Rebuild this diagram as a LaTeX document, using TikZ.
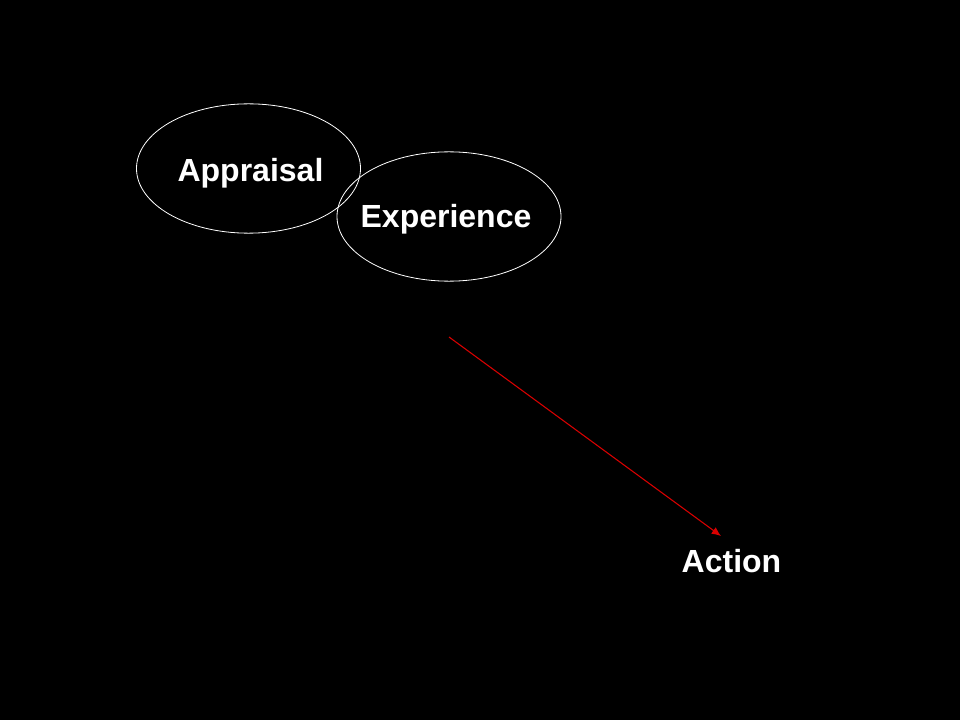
\documentclass[tikz,border=0pt]{standalone}
\usepackage{fontspec}
\setmainfont{Liberation Sans}
\usetikzlibrary{shapes.geometric,arrows.meta}

\begin{document}
\begin{tikzpicture}[x=0.75pt,y=-0.75pt,
    bubble/.style={draw=white, ellipse, line width=0.6pt, minimum width=168pt, minimum height=97pt, inner sep=0pt},
    word/.style={text=white, font=\bfseries\fontsize{24}{28}\selectfont, anchor=base, inner sep=0pt}]
    % Background
    \fill[black] (0,0) rectangle (960,720);

    % Ellipses
    \node[bubble] (appraisalbox) at (248.5,168.5) {};
    \node[bubble] (experiencebox) at (449,216.5) {};

    % Labels
    \node[word] (appraisal) at (250.5,182) {Appraisal};
    \node[word] (experience) at (446,228) {Experience};
    \node[word] (action) at (731.5,572) {Action};

    % Arrow
    \coordinate (from) at (449,337);
    \coordinate (to) at (721,536);
    \draw[red!85!black, line width=0.8pt, -{Latex[length=7pt,width=6pt]}] (from) -- (to);
\end{tikzpicture}
\end{document}
